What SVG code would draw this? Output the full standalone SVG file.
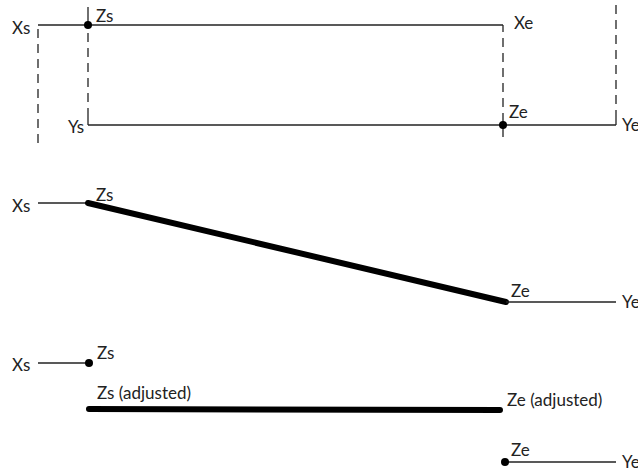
<svg xmlns="http://www.w3.org/2000/svg" width="638" height="473" viewBox="0 0 638 473">
<style>
text{font-family:Lato,"Open Sans","Liberation Sans",sans-serif;font-size:17px;fill:#222}
.thin{stroke:#222;stroke-width:1.3;fill:none}
.dash{stroke:#222;stroke-width:1.3;fill:none;stroke-dasharray:9,6}
.thick{stroke:#000;stroke-width:6;stroke-linecap:round;fill:none}
.dot{fill:#000}
</style>
<rect width="638" height="473" fill="#fff"/>
<g id="connectors">
<line class="thin" x1="38" y1="25" x2="503" y2="25"/>
<line class="dash" x1="38" y1="29" x2="38" y2="146"/>
<line class="thin" x1="88" y1="7" x2="88" y2="25"/>
<line class="dash" x1="88" y1="33" x2="88" y2="113"/>
<line class="thin" x1="88" y1="113" x2="88" y2="125"/>
<line class="thin" x1="88" y1="125" x2="616" y2="125"/>
<line class="thin" x1="503" y1="25" x2="503" y2="32"/>
<line class="dash" x1="503" y1="38" x2="503" y2="143"/>
<line class="dash" x1="616" y1="5" x2="616" y2="113"/>
<line class="thin" x1="616" y1="113" x2="616" y2="125"/>
<line class="thin" x1="38" y1="203" x2="88" y2="203"/>
<line class="thick" x1="88" y1="203" x2="506" y2="302"/>
<line class="thin" x1="506" y1="302" x2="616" y2="302"/>
<line class="thin" x1="38" y1="363" x2="89" y2="363"/>
<line class="thick" x1="89" y1="409" x2="500" y2="410"/>
<line class="thin" x1="505" y1="462" x2="616" y2="462"/>
</g>
<g id="top">
<circle class="dot" cx="88" cy="25" r="4"/>
<circle class="dot" cx="503" cy="125" r="4"/>
<text x="12" y="34">Xs</text>
<text x="96" y="22">Zs</text>
<text x="514" y="29">Xe</text>
<text x="68" y="133">Ys</text>
<text x="509" y="118">Ze</text>
<text x="622" y="131">Ye</text>
</g>
<g id="middle">
<text x="12" y="212">Xs</text>
<text x="96" y="201">Zs</text>
<text x="511" y="297">Ze</text>
<text x="622" y="308">Ye</text>
</g>
<g id="bottom">
<circle class="dot" cx="89" cy="363" r="4"/>
<circle class="dot" cx="505" cy="462" r="4"/>
<text x="12" y="371">Xs</text>
<text x="97" y="359">Zs</text>
<text x="97" y="399">Zs (adjusted)</text>
<text x="507" y="406">Ze (adjusted)</text>
<text x="511" y="456">Ze</text>
<text x="622" y="468">Ye</text>
</g>
</svg>
